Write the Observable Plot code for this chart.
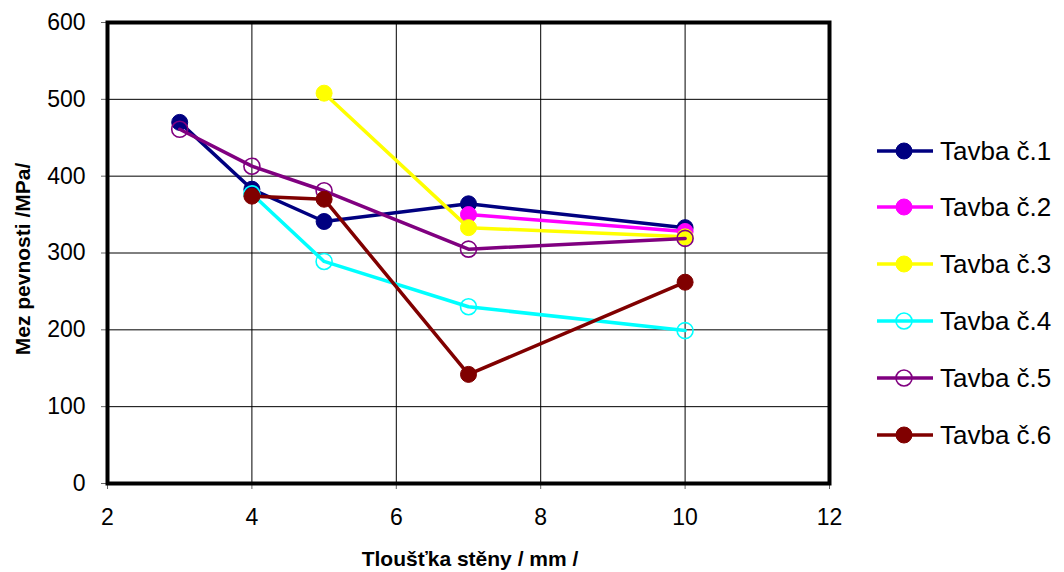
<!DOCTYPE html>
<html><head><meta charset="utf-8">
<script src="https://cdn.jsdelivr.net/npm/d3@7"></script>
<script src="https://cdn.jsdelivr.net/npm/@observablehq/plot@0.6"></script>
<style>
body{margin:0;background:#fff;font-family:"Liberation Sans",Arial,sans-serif}
#wrap{position:relative;width:1064px;height:572px}
#legend{position:absolute;left:872px;top:0}
.item{position:absolute;left:0;height:30px;width:192px;display:flex;align-items:center}
.item span{font-size:26px;color:#000;margin-left:6px;white-space:nowrap}
</style>
</head><body><div id="wrap"><div id="legend"></div></div>
<script>
const seriesNames = ["Tavba č.1","Tavba č.2","Tavba č.3","Tavba č.4","Tavba č.5","Tavba č.6"];
const seriesColors = ["#000080","#ff00ff","#ffff00","#00ffff","#800080","#800000"];
const seriesFilled = [true,true,true,false,false,true];
const xTicks = [2,4,6,8,10,12];
const yTicks = [0,100,200,300,400,500,600];

const x1 = [3,4,5,7,10], y1 = [470,383,341,364,333];
const x2 = [7,10],       y2 = [350,328];
const x3 = [5,7,10],     y3 = [508,333,321];
const x4 = [4,5,7,10],   y4 = [377,289,230,199];
const x5 = [3,4,5,7,10], y5 = [461,413,381,305,319];
const x6 = [4,5,7,10],   y6 = [374,370,142,262];
const xs = [x1,x2,x3,x4,x5,x6], ys = [y1,y2,y3,y4,y5,y6];

const marks = [
  Plot.gridY(yTicks, {stroke:"#000", strokeOpacity:1, strokeWidth:1}),
  Plot.gridX(xTicks, {stroke:"#000", strokeOpacity:1, strokeWidth:1}),
  Plot.axisY(yTicks, {tickSize:6, tickPadding:16, stroke:"#666", fontSize:23, label:null, fill:"#000"}),
  Plot.axisX(xTicks, {tickSize:6, tickPadding:19, stroke:"#666", fontSize:23, label:null, fill:"#000"})
];
seriesNames.forEach((name,i)=>{
  const data = xs[i].map((x,j)=>({x, y: ys[i][j], s:name}));
  marks.push(Plot.line(data,{x:"x",y:"y",stroke:seriesColors[i],strokeWidth:3.5}));
  marks.push(Plot.dot(data,{x:"x",y:"y",r:8,
    fill: seriesFilled[i] ? seriesColors[i] : "none",
    stroke: seriesColors[i], strokeWidth: seriesFilled[i] ? 1 : 1.6}));
});
marks.push(Plot.frame({stroke:"#000", strokeWidth:4}));

const chart = Plot.plot({
  width:1064, height:572,
  marginLeft:107, marginRight:235, marginTop:22, marginBottom:89,
  style:{fontFamily:"'Liberation Sans', Arial, sans-serif", background:"#fff", overflow:"visible"},
  x:{domain:[2,12]},
  y:{domain:[0,600]},
  marks
});
const svg = d3.select(chart);
svg.append("text").attr("x",470).attr("y",566).attr("text-anchor","middle")
  .attr("font-size",21).attr("font-weight","bold").attr("fill","#000").text("Tloušťka stěny / mm /");
svg.append("text").attr("transform","translate(30,259) rotate(-90)").attr("text-anchor","middle")
  .attr("font-size",21).attr("font-weight","bold").attr("fill","#000").text("Mez pevnosti /MPa/");
document.getElementById("wrap").prepend(chart);
chart.style.position="absolute"; chart.style.left="0"; chart.style.top="0";

const legend = document.getElementById("legend");
const legendCenters = [151,207,264,321,378,435];
seriesNames.forEach((name,i)=>{
  const d = document.createElement("div");
  d.className="item"; d.style.top=(legendCenters[i]-15)+"px";
  const c = seriesColors[i];
  d.innerHTML = `<svg width="62" height="30"><line x1="5" x2="61" y1="15" y2="15" stroke="${c}" stroke-width="3.5"/><circle cx="32" cy="15" r="8" fill="${seriesFilled[i]?c:'#fff'}" fill-opacity="${seriesFilled[i]?1:0}" stroke="${c}" stroke-width="${seriesFilled[i]?1:1.6}"/></svg><span>${name}</span>`;
  legend.appendChild(d);
});
</script>
</body></html>
